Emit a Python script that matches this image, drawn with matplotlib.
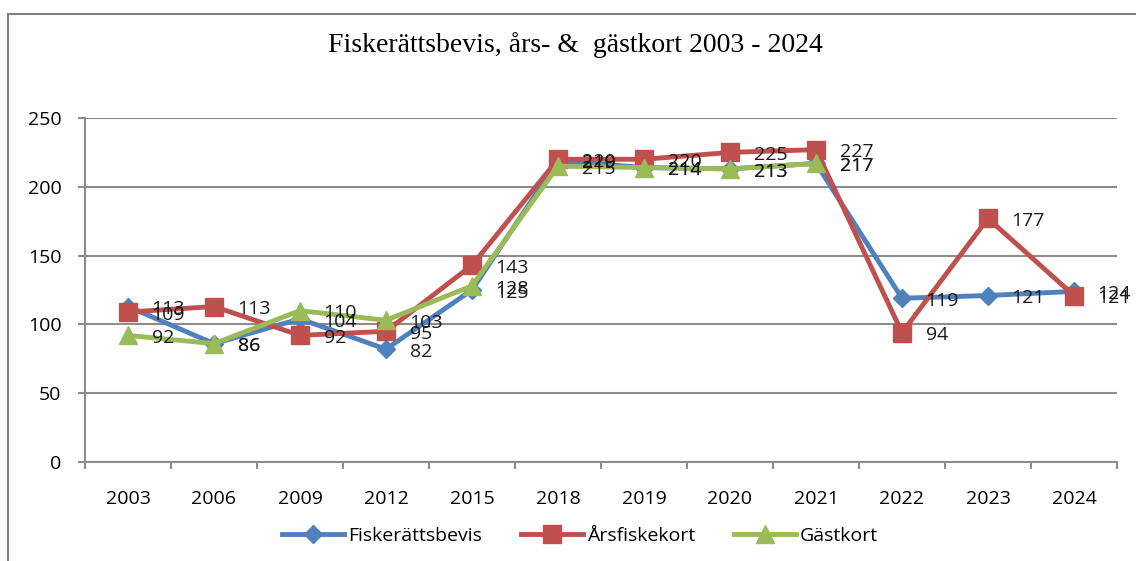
import numpy as np
import matplotlib.pyplot as plt
from matplotlib.patches import Rectangle

# data
years = ['2003', '2006', '2009', '2012', '2015', '2018', '2019', '2020', '2021', '2022', '2023', '2024']
fiskerattsbevis = [113, 86, 104, 82, 125, 219, 214, 213, 217, 119, 121, 124]
arsfiskekort = [109, 113, 92, 95, 143, 220, 220, 225, 227, 94, 177, 121]
gastkort = [92, 86, 110, 103, 128, 215, 214, 213, 217]

blue = '#4F81BD'
red = '#C0504D'
green = '#9BBB59'
grid_col = '#8C8C8C'
sans = ['Open Sans', 'DejaVu Sans']

plt.rcParams['font.family'] = sans

fig = plt.figure(figsize=(11.36, 5.61), dpi=100)
ax = fig.add_axes([85 / 1136, 1 - 462 / 561, 1032 / 1136, 344 / 561])

# chart area frame (top and left edges visible)
fig.patches.append(Rectangle((8 / 1136, -0.1), 1.2, 1 - 14 / 561 + 0.1, transform=fig.transFigure,
                             fill=False, edgecolor='#808080', linewidth=1.5, zorder=0))

x = np.arange(len(years))
ax.plot(x, fiskerattsbevis, '-', color=blue, linewidth=3.5, marker='D', markersize=9, label='Fiskerättsbevis', zorder=3)
ax.plot(x, arsfiskekort, '-', color=red, linewidth=3.5, marker='s', markersize=12.5, label='Årsfiskekort', zorder=4)
ax.plot(x[:len(gastkort)], gastkort, '-', color=green, linewidth=3.5, marker='^', markersize=12.5, label='Gästkort', zorder=5)

# data labels to the right of each point
for series in [fiskerattsbevis, arsfiskekort, gastkort]:
    for xi, v in zip(x, series):
        ax.annotate(str(v), xy=(xi, v), xytext=(17, -2), textcoords='offset points',
                    ha='left', va='center', fontsize=14, color='#1a1a1a', zorder=6)

ax.set_xlim(-0.5, len(years) - 0.5)
ax.set_ylim(0, 250)
ax.set_yticks(np.arange(0, 251, 50))
ax.set_xticks(x)
ax.set_xticklabels(years)
ax.set_xticks(np.arange(-0.5, len(years), 1), minor=True)
ax.tick_params(axis='x', which='major', length=0, pad=20, labelsize=14)
ax.tick_params(axis='x', which='minor', length=5, color=grid_col, width=1.5)
ax.tick_params(axis='y', length=5, color=grid_col, width=1.5, pad=12, labelsize=14)

ax.grid(axis='y', color=grid_col, linewidth=1.5, zorder=0)
ax.set_axisbelow(True)
for side in ['top', 'right']:
    ax.spines[side].set_visible(False)
ax.spines['left'].set_color(grid_col)
ax.spines['left'].set_linewidth(1.5)
ax.spines['bottom'].set_color(grid_col)
ax.spines['bottom'].set_linewidth(1.5)

fig.text(575 / 1136, 1 - 45 / 561, 'Fiskerättsbevis, års- &  gästkort 2003 - 2024', ha='center', va='center',
         fontsize=20, family=['Liberation Serif', 'DejaVu Serif'])

fig.legend(loc='center', bbox_to_anchor=(580 / 1136, 1 - 536 / 561), ncol=3, frameon=False,
           fontsize=14, handlelength=3.2, handletextpad=0.2, columnspacing=2.0)

fig.savefig('out.png', dpi=100)
